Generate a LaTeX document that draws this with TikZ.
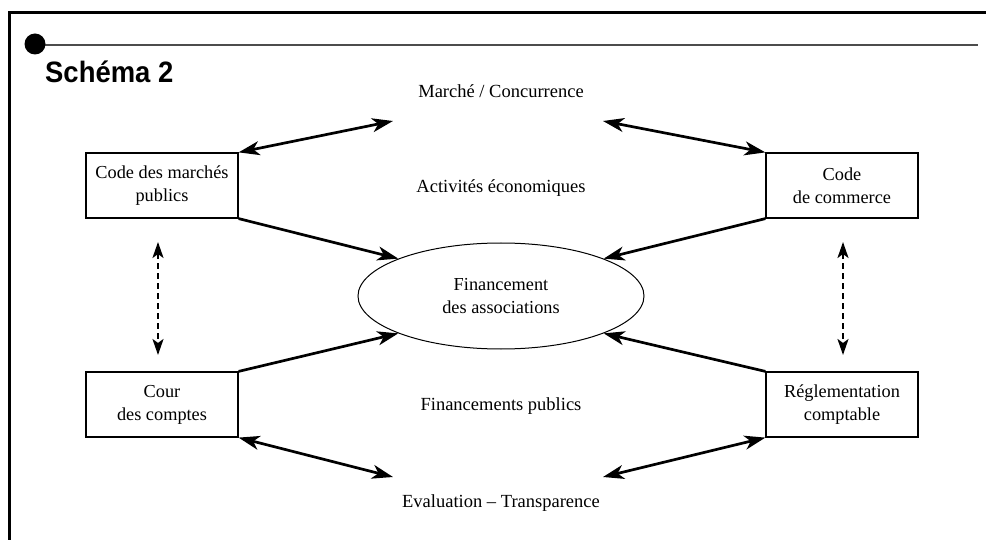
\documentclass[tikz,border=0pt]{standalone}
\usepackage{fontspec}
\setmainfont{Liberation Serif}
\newfontfamily\titlefont{Liberation Sans}
\usetikzlibrary{arrows.meta,shapes.geometric}
\begin{document}
\begin{tikzpicture}[x=1pt,y=-1pt,
  lbl/.style={font=\fontsize{18.5}{23}\selectfont, align=center, inner sep=0pt},
  boxnode/.style={draw, line width=1.2pt, minimum width=152pt, minimum height=65pt, align=center, inner sep=0pt, font=\fontsize{18.3}{23}\selectfont},
  ellnode/.style={draw, ellipse, line width=1pt, minimum width=286pt, minimum height=106pt, inner sep=0pt, align=center, font=\fontsize{18.3}{23}\selectfont},
  conn/.style={line width=2.7pt, -{Stealth[length=21pt,width=14pt,inset=6pt]}},
  biconn/.style={line width=2.7pt, {Stealth[length=21pt,width=14pt,inset=6pt]}-{Stealth[length=21pt,width=14pt,inset=6pt]}},
  dashconn/.style={line width=2.3pt, dash pattern=on 6pt off 4pt, {Stealth[length=16pt,width=11pt,inset=4pt]}-{Stealth[length=16pt,width=11pt,inset=4pt]}}
]
\useasboundingbox (0,0) rectangle (986,540);
% frame
\draw[line width=3pt] (9.5,540) -- (9.5,12.5) -- (986,12.5);
\draw[line width=2pt, black!70] (35,45) -- (978,45);
\fill (35,44) circle (10.5pt);
\node[anchor=base west, inner sep=0pt, font=\titlefont\bfseries\fontsize{29.5}{32}\selectfont] (title) at (45,83) {\scalebox{0.93}[1]{Schéma 2}};

% boxes
\node[boxnode] (tl) at (162,185.5) {Code des marchés\\publics};
\node[boxnode] (tr) at (842,185.5) {Code\\de commerce};
\node[boxnode] (bl) at (162,404.5) {Cour\\des comptes};
\node[boxnode] (br) at (842,404.5) {Réglementation\\comptable};
\node[ellnode] (ell) at (501,296) {Financement\\des associations};

% labels
\node[lbl, anchor=base] (mc) at (501,98) {Marché / Concurrence};
\node[lbl, anchor=base] (ae) at (501,193) {Activités économiques};
\node[lbl, anchor=base] (fp) at (501,410) {Financements publics};
\node[lbl, anchor=base] (et) at (501,507) {Evaluation – Transparence};

% arrow end points
\coordinate (m1) at (393,121);
\coordinate (m2) at (603,121);
\coordinate (e1) at (393,477);
\coordinate (e2) at (603,477);
\coordinate (d1a) at (158,242);
\coordinate (d1b) at (158,355);
\coordinate (d2a) at (843,242);
\coordinate (d2b) at (843,355);

% connectors
\draw[biconn] (tl.north east) -- (m1);
\draw[biconn] (m2) -- (tr.north west);
\draw[biconn] (bl.south east) -- (e1);
\draw[biconn] (e2) -- (br.south west);
\draw[conn] (tl.south east) -- (ell.160);
\draw[conn] (tr.south west) -- (ell.20);
\draw[conn] (bl.north east) -- (ell.200);
\draw[conn] (br.north west) -- (ell.340);
\draw[dashconn] (d1a) -- (d1b);
\draw[dashconn] (d2a) -- (d2b);
\end{tikzpicture}
\end{document}
